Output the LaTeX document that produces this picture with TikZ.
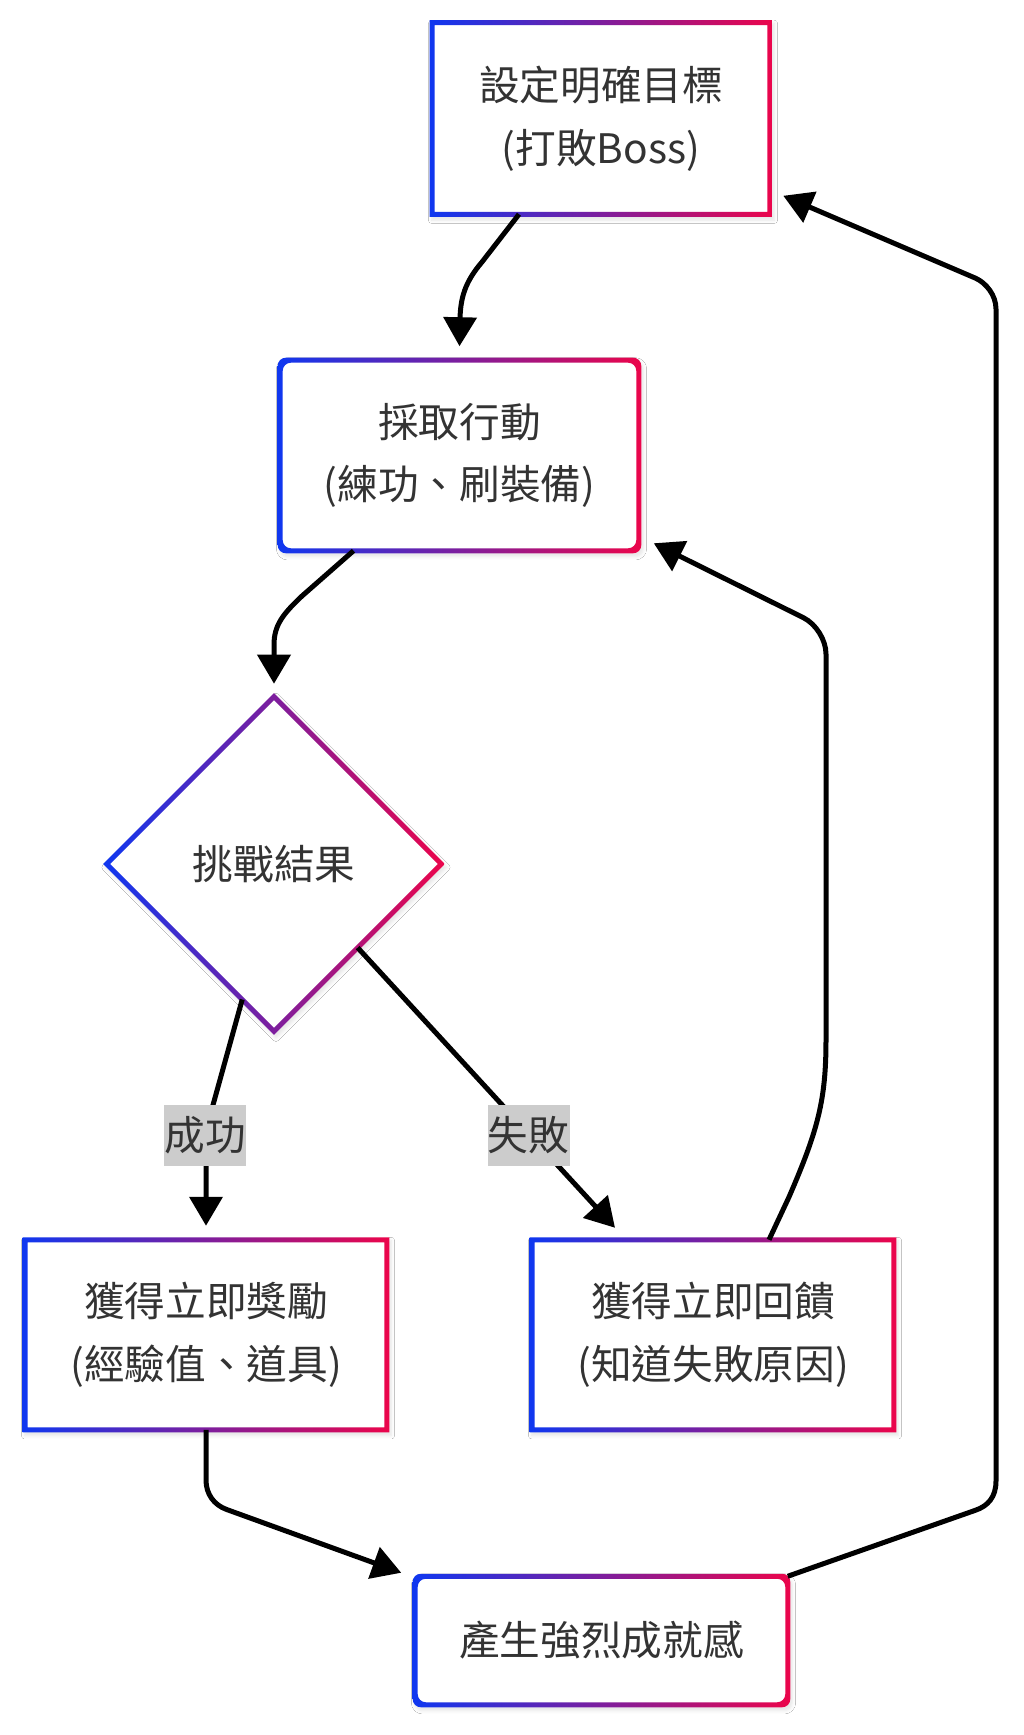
\documentclass[tikz,border=0pt]{standalone}
\usepackage{fontspec}
\setmainfont{Noto Sans CJK TC}
\usetikzlibrary{arrows.meta,shapes.geometric,calc,shadows.blur,backgrounds}
\definecolor{gblue}{RGB}{15,55,240}
\definecolor{gred}{RGB}{235,5,75}
\definecolor{txtc}{RGB}{51,51,51}
\definecolor{lblc}{RGB}{204,204,204}
\tikzset{
 boxnode/.style={rectangle, inner sep=0pt, align=center, text=txtc, font=\fontsize{30.5pt}{47pt}\selectfont},
 decnode/.style={diamond, shape aspect=1, inner sep=0pt, minimum width=250.5pt, minimum height=250.5pt, text=txtc, font=\fontsize{30.5pt}{47pt}\selectfont},
 lblnode/.style={rectangle, fill=lblc, inner sep=0pt, minimum width=61.5pt, minimum height=45.75pt, text=txtc, font=\fontsize{30.5pt}{47pt}\selectfont},
 flow/.style={draw=black, line width=3.75pt, -{Triangle[length=21.75pt,width=24.5pt]}},
 shad/.style={fill=white, blur shadow={shadow xshift=1.5pt, shadow yshift=-2.5pt, shadow blur radius=2.5pt, shadow opacity=10}},
 grad/.style={left color=gblue, right color=gred, even odd rule},
}
\newcommand\mkframe[2]{%
 \path[shad, rounded corners=#2] ([shift={(-1.875pt,1.875pt)}]#1.north west) rectangle ([shift={(1.875pt,-1.875pt)}]#1.south east);
 \shade[grad, rounded corners=#2] ([shift={(-1.875pt,1.875pt)}]#1.north west) rectangle ([shift={(1.875pt,-1.875pt)}]#1.south east) ([shift={(1.875pt,-1.875pt)}]#1.north west) rectangle ([shift={(-1.875pt,1.875pt)}]#1.south east);
}
\begin{document}
\begin{tikzpicture}[x=0.75pt,y=-0.75pt]
\useasboundingbox (0,0) rectangle (1024,1735);
% nodes
\node[boxnode, minimum width=252.75pt, minimum height=143.25pt] (goal) at (601,118.5) {設定明確目標\\(打敗Boss)};
\node[boxnode, minimum width=268.5pt, minimum height=142.5pt] (act) at (459.5,455.5) {採取行動\\(練功、刷裝備)};
\node[decnode] (dec) at (274,864) {挑戰結果};
\node[boxnode, minimum width=270.75pt, minimum height=142.1pt] (rew) at (206,1334.75) {獲得立即獎勵\\(經驗值、道具)};
\node[boxnode, minimum width=270.75pt, minimum height=142.1pt] (fb) at (713,1334.75) {獲得立即回饋\\(知道失敗原因)};
\node[boxnode, minimum width=279pt, minimum height=96pt] (ach) at (601.5,1640.5) {產生強烈成就感};
% frames
\begin{scope}[on background layer]
 \fill[white] (0,0) rectangle (1024,1735);
 \mkframe{goal}{0pt}
 \mkframe{act}{6pt}
 \mkframe{rew}{0pt}
 \mkframe{fb}{0pt}
 \mkframe{ach}{6pt}
 \path[shad] ([yshift=2.625pt]dec.north) -- ([xshift=2.625pt]dec.east) -- ([yshift=-2.625pt]dec.south) -- ([xshift=-2.625pt]dec.west) -- cycle;
 \shade[grad] ([yshift=2.625pt]dec.north) -- ([xshift=2.625pt]dec.east) -- ([yshift=-2.625pt]dec.south) -- ([xshift=-2.625pt]dec.west) -- cycle
   ([yshift=-2.625pt]dec.north) -- ([xshift=-2.625pt]dec.east) -- ([yshift=2.625pt]dec.south) -- ([xshift=2.625pt]dec.west) -- cycle;
\end{scope}
% connectors
\draw[flow] ($(goal.south)+(-82,0)$) -- (482,262) .. controls (465,282) and (460,298) .. (460,322) -- ($(act.north)+(0,-14)$);
\draw[flow] ($(act.south)+(-106,0)$) -- (302,596) .. controls (283,614) and (274,625) .. (274,645) -- ($(dec.north)+(0,-13)$);
\draw[flow] ($(dec.west)!0.81!(dec.south)$) -- (213,1105) .. controls (207,1128) and (206,1140) .. (206,1166) -- ($(rew.north)+(0,-14)$);
\draw[flow] (dec.south east) -- ($(fb.north)+(-98,-12)$);
\draw[flow] ($(fb.north)+(56,0)$) -- (789,1197) .. controls (818,1130) and (826,1100) .. (826,1040) -- (826,654) .. controls (826,640) and (816,624) .. (803.6,617.8) -- ($(act.south east)+(15,-7.5)$);
\draw[flow] (rew.south) -- (206,1480) .. controls (206,1494) and (214,1505) .. (226.7,1509.5) -- ($(ach.north west)+(-14,-3.5)$);
\draw[flow] (ach.north east) -- (975.3,1510.3) .. controls (988,1506) and (996,1497) .. (996,1481) -- (996,309) .. controls (996,295) and (986,283) .. (975.8,278.3) -- ($(goal.south east)+(13.5,-18.5)$);
% edge labels
\node[lblnode] (lsucc) at (205,1135.5) {成功};
\node[lblnode] (lfail) at (528.5,1135.5) {失敗};
\end{tikzpicture}
\end{document}
